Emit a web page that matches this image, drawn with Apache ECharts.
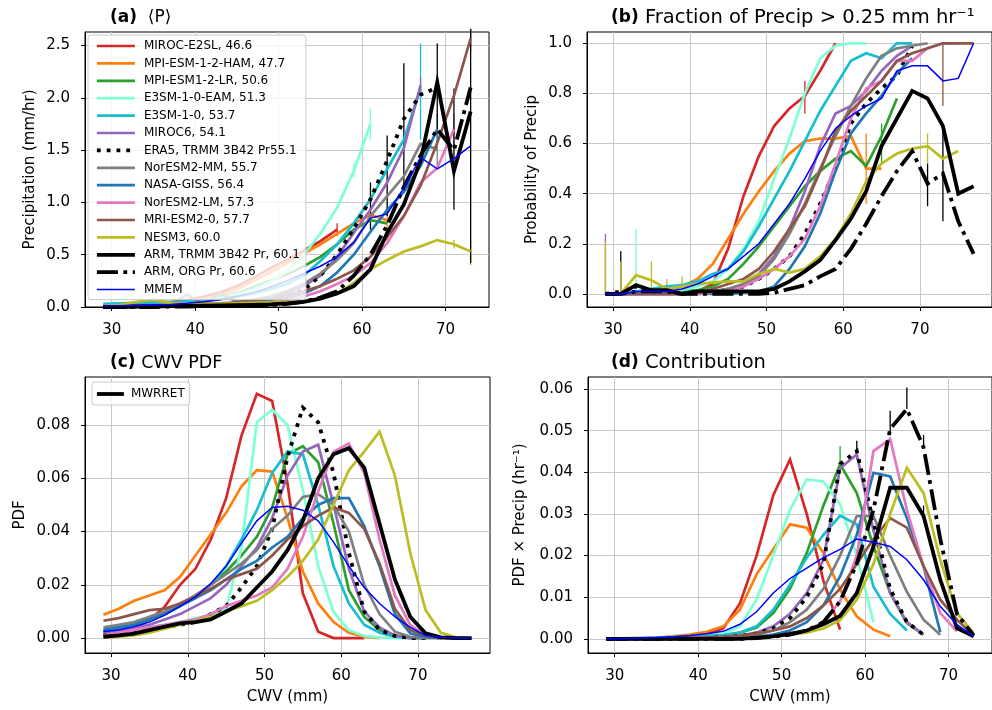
<!DOCTYPE html>
<html><head><meta charset="utf-8">
<script src="https://cdn.jsdelivr.net/npm/echarts@6/dist/echarts.min.js"></script>
<style>html,body{margin:0;padding:0;background:#fff}#c{width:992px;height:710px}</style>
</head><body><div id="c"></div>
<script>
// ---------- categories ----------
const cwvBins = [29,31,33,35,37,39,41,43,45,47,49,51,53,55,57,59,61,63,65,67,69,71,73,75,77];
const xTicks = [30,40,50,60,70];
const seriesNames = ['MIROC-E2SL, 46.6','MPI-ESM-1-2-HAM, 47.7','MPI-ESM1-2-LR, 50.6','E3SM-1-0-EAM, 51.3','E3SM-1-0, 53.7','MIROC6, 54.1','ERA5, TRMM 3B42 Pr55.1','NorESM2-MM, 55.7','NASA-GISS, 56.4','NorESM2-LM, 57.3','MRI-ESM2-0, 57.7','NESM3, 60.0','ARM, TRMM 3B42 Pr, 60.1','ARM, ORG Pr, 60.6','MMEM'];
const pdfObsName = 'MWRRET';

// ---------- (a) <P> (mm/hr) ----------
const precipMIROCE2SL = [0.01,0.015,0.02,0.03,0.045,0.065,0.1,0.14,0.2,0.28,0.37,0.45,0.54,0.63,0.74];
const precipMPIHAM = [0.01,0.012,0.018,0.025,0.035,0.05,0.075,0.11,0.17,0.25,0.33,0.42,0.51,0.6,0.7,0.8,0.88,0.83];
const precipMPILR = [0.005,0.008,0.012,0.017,0.025,0.04,0.06,0.085,0.13,0.19,0.25,0.31,0.39,0.48,0.6,0.74,0.83,0.8];
const precipE3SMEAM = [0.02,0.025,0.03,0.035,0.04,0.05,0.065,0.085,0.12,0.17,0.24,0.34,0.5,0.7,0.95,1.3,1.75];
const precipE3SM = [0.03,0.035,0.04,0.045,0.05,0.055,0.06,0.075,0.1,0.13,0.17,0.22,0.3,0.44,0.6,0.8,1.03,1.32,1.6,2.09];
const precipMIROC6 = [0.005,0.006,0.008,0.01,0.012,0.015,0.02,0.03,0.04,0.06,0.09,0.13,0.2,0.3,0.48,0.71,0.93,1.19,1.52,2.12];
const precipERA5 = [0.0,0.0,0.005,0.01,0.01,0.015,0.02,0.025,0.03,0.05,0.07,0.1,0.16,0.3,0.5,0.75,1.03,1.4,1.8,2.03,2.1];
const precipNorMM = [0.005,0.007,0.01,0.013,0.017,0.12,0.03,0.13,0.05,0.07,0.1,0.15,0.22,0.32,0.45,0.61,0.87,1.06,1.25,1.56,1.51];
const precipGISS = [0.005,0.006,0.008,0.01,0.012,0.015,0.018,0.023,0.03,0.045,0.065,0.09,0.13,0.2,0.33,0.5,0.72,0.93,1.1,1.35,1.7];
const precipNorLM = [0.003,0.004,0.005,0.006,0.008,0.01,0.012,0.015,0.02,0.03,0.045,0.065,0.1,0.15,0.22,0.3,0.42,0.61,0.87,1.19,1.33,1.7];
const precipMRI = [0.01,0.012,0.015,0.018,0.022,0.026,0.03,0.035,0.045,0.06,0.08,0.11,0.15,0.2,0.27,0.35,0.48,0.67,0.87,1.16,1.57,2.02,2.57];
const precipNESM3 = [0.01,0.02,0.05,0.07,0.04,0.03,0.03,0.03,0.035,0.04,0.045,0.05,0.06,0.08,0.13,0.23,0.36,0.45,0.53,0.58,0.64,0.6,0.53];
const precipARMTRMM = [0.0,0.0,0.005,0.005,0.008,0.01,0.012,0.015,0.018,0.02,0.025,0.035,0.05,0.08,0.13,0.2,0.36,0.71,0.98,1.4,2.15,1.3,1.87];
const precipARMORG = [0.0,0.0,0.0,0.0,0.005,0.005,0.008,0.01,0.012,0.015,0.02,0.03,0.05,0.09,0.15,0.3,0.5,0.78,1.15,1.45,1.7,1.5,2.1];
const precipMMEM = [0.01,0.012,0.015,0.02,0.025,0.035,0.05,0.07,0.1,0.14,0.19,0.25,0.32,0.39,0.48,0.62,0.85,0.89,1.14,1.43,1.32,1.42,1.54];

// ---------- (b) fraction of precip > 0.25 ----------
const fracMIROCE2SL = [0,0,0,0,0,0,0.01,0.04,0.18,0.39,0.55,0.67,0.74,0.79,0.89,1.0];
const fracMPIHAM = [0,0,0.005,0.01,0.015,0.03,0.06,0.12,0.22,0.32,0.41,0.49,0.56,0.61,0.62,0.62,0.63,0.5,0.5];
const fracMPILR = [0,0,0.005,0.005,0.005,0.01,0.015,0.03,0.06,0.12,0.19,0.27,0.35,0.43,0.49,0.54,0.57,0.51,0.63,0.78];
const fracE3SMEAM = [0,0,0.01,0.01,0.01,0.015,0.03,0.05,0.1,0.18,0.29,0.46,0.62,0.8,0.94,0.99,1.0,1.0];
const fracE3SM = [0,0,0.01,0.02,0.03,0.035,0.05,0.08,0.1,0.17,0.27,0.38,0.49,0.61,0.73,0.83,0.93,0.96,0.94,1.0,1.0];
const fracMIROC6 = [0,0,0,0,0,0,0.005,0.01,0.02,0.04,0.08,0.15,0.26,0.41,0.59,0.72,0.75,0.81,0.89,0.95,0.99];
const fracERA5 = [0,0.01,0.03,0.01,0.01,0,0.01,0.01,0.015,0.03,0.06,0.1,0.15,0.24,0.36,0.5,0.68,0.76,0.82,0.87,0.99];
const fracNorMM = [0,0,0,0,0,0,0.005,0.01,0.02,0.04,0.07,0.14,0.24,0.36,0.5,0.63,0.75,0.86,0.95,0.98,0.99,1.0];
const fracGISS = [0,0,0,0,0,0,0,0,0,0.005,0.01,0.03,0.1,0.19,0.32,0.49,0.64,0.72,0.79,0.88,0.94];
const fracNorLM = [0,0,0,0,0,0,0,0.005,0.01,0.03,0.06,0.1,0.15,0.22,0.35,0.52,0.7,0.82,0.85,0.93,0.93,0.98,1.0,1.0];
const fracMRI = [0,0,0,0,0,0,0.005,0.02,0.04,0.06,0.1,0.17,0.26,0.35,0.49,0.65,0.73,0.79,0.85,0.93,0.96,0.98,1.0,1.0,1.0];
const fracNESM3 = [0,0,0.075,0.055,0.02,0.03,0.04,0.045,0.05,0.05,0.08,0.1,0.085,0.1,0.15,0.22,0.32,0.45,0.52,0.56,0.58,0.59,0.54,0.57];
const fracARMTRMM = [0,0,0.035,0.015,0.015,0,0.01,0.01,0.01,0.01,0.01,0.02,0.05,0.09,0.135,0.215,0.3,0.41,0.59,0.7,0.81,0.78,0.67,0.4,0.43];
const fracARMORG = [0,0,0.01,0.01,0.01,0,0,0,0,0,0,0.005,0.02,0.035,0.07,0.1,0.18,0.28,0.39,0.49,0.57,0.44,0.48,0.29,0.16];
const fracMMEM = [0,0,0.01,0.01,0.01,0.02,0.04,0.07,0.1,0.15,0.2,0.28,0.36,0.46,0.57,0.66,0.71,0.75,0.78,0.89,0.91,0.91,0.85,0.86,1.0];

// ---------- (c) CWV PDF ----------
const pdfMIROCE2SL = [0.0011,0.002,0.0036,0.0068,0.0118,0.02,0.026,0.037,0.0525,0.076,0.0917,0.089,0.058,0.0168,0.0024,0.0,0.0,0.0];
const pdfMPIHAM = [0.0088,0.011,0.014,0.016,0.018,0.023,0.031,0.039,0.047,0.057,0.063,0.0625,0.045,0.025,0.013,0.006,0.002,0.0005,0.0];
const pdfMPILR = [0.002,0.003,0.005,0.007,0.009,0.012,0.016,0.02,0.025,0.031,0.038,0.049,0.069,0.072,0.066,0.043,0.018,0.008,0.003,0.001,0.0];
const pdfE3SMEAM = [0.002,0.002,0.003,0.004,0.005,0.006,0.0075,0.0085,0.011,0.034,0.081,0.0857,0.08,0.0556,0.027,0.0098,0.003,0.0008,0.0002,0,0,0];
const pdfE3SM = [0.003,0.004,0.005,0.007,0.009,0.012,0.015,0.02,0.027,0.037,0.048,0.062,0.07,0.069,0.05,0.027,0.013,0.005,0.002,0.0005,0,0];
const pdfMIROC6 = [0.002,0.003,0.004,0.005,0.007,0.009,0.012,0.015,0.02,0.027,0.034,0.045,0.061,0.07,0.0726,0.05,0.026,0.01,0.004,0.001,0,0];
const pdfERA5 = [0.001,0.0015,0.002,0.003,0.004,0.005,0.006,0.009,0.012,0.019,0.027,0.041,0.068,0.0865,0.081,0.062,0.032,0.01,0.003,0.0008,0,0];
const pdfNorMM = [0.004,0.005,0.006,0.008,0.01,0.013,0.016,0.02,0.024,0.028,0.033,0.041,0.046,0.053,0.054,0.05,0.04,0.02,0.009,0.0024,0.0005,0,0];
const pdfGISS = [0.003,0.004,0.005,0.007,0.009,0.012,0.015,0.018,0.022,0.026,0.029,0.034,0.038,0.045,0.05,0.0525,0.0525,0.042,0.027,0.009,0.0018,0.0003,0];
const pdfNorLM = [0.001,0.002,0.003,0.004,0.005,0.006,0.007,0.009,0.012,0.014,0.016,0.019,0.026,0.038,0.055,0.07,0.073,0.062,0.037,0.016,0.005,0.001,0.0002,0];
const pdfMRI = [0.0065,0.0075,0.009,0.0105,0.011,0.013,0.0155,0.0185,0.022,0.024,0.026,0.031,0.037,0.042,0.046,0.049,0.047,0.041,0.028,0.011,0.003,0.0008,0.0001,0];
const pdfNESM3 = [0.0002,0.0005,0.001,0.002,0.0035,0.005,0.0065,0.008,0.01,0.012,0.014,0.018,0.023,0.029,0.037,0.05,0.063,0.07,0.0775,0.061,0.032,0.0105,0.002,0.0003,0];
const pdfMWRRET = [0.0005,0.001,0.0017,0.003,0.0043,0.0055,0.006,0.007,0.01,0.013,0.019,0.025,0.033,0.044,0.06,0.069,0.0713,0.064,0.043,0.022,0.008,0.0018,0.0003,0,0];
const pdfMMEM = [0.0025,0.003,0.0043,0.006,0.0086,0.012,0.0155,0.0205,0.027,0.0356,0.044,0.049,0.0495,0.048,0.044,0.036,0.027,0.019,0.013,0.008,0.004,0.001,0.0003,0,0];

// ---------- (d) contribution ----------
const conMIROCE2SL = [0,0,0.0001,0.0002,0.0004,0.0007,0.0012,0.0025,0.0085,0.02,0.0345,0.0431,0.03,0.014,0.0022];
const conMPIHAM = [0,0.0001,0.0002,0.0003,0.0006,0.001,0.0017,0.003,0.007,0.0155,0.0215,0.0275,0.0267,0.0206,0.0118,0.0054,0.0022,0.0006];
const conMPILR = [0,0,0,0.0001,0.0002,0.0003,0.0005,0.0008,0.0015,0.0027,0.0062,0.012,0.0206,0.032,0.0419,0.035,0.0222,0.011,0.0038,0.001];
const conE3SMEAM = [0,0.0001,0.0001,0.0002,0.0003,0.0005,0.0008,0.0012,0.003,0.0095,0.02,0.031,0.0383,0.0378,0.0323,0.02,0.004];
const conE3SM = [0.0001,0.0001,0.0002,0.0003,0.0004,0.0005,0.0007,0.0009,0.0015,0.003,0.007,0.013,0.0195,0.025,0.0296,0.0275,0.0125,0.006,0.002];
const conMIROC6 = [0,0,0,0,0.0001,0.0002,0.0003,0.0005,0.0008,0.0015,0.003,0.006,0.011,0.019,0.041,0.0443,0.026,0.011,0.004,0.001];
const conERA5 = [0,0,0,0,0.0001,0.0001,0.0002,0.0004,0.0007,0.0013,0.0025,0.005,0.01,0.018,0.042,0.0451,0.028,0.012,0.004,0.001];
const conNorMM = [0,0,0.0001,0.0001,0.0002,0.0002,0.0003,0.0004,0.0005,0.001,0.002,0.004,0.007,0.012,0.02,0.0295,0.0295,0.02,0.0113,0.0046,0.001];
const conGISS = [0,0,0,0,0,0.0001,0.0001,0.0002,0.0003,0.0005,0.001,0.002,0.004,0.008,0.015,0.025,0.0399,0.039,0.029,0.0174,0.0016];
const conNorLM = [0,0,0,0,0,0,0.0001,0.0001,0.0002,0.0004,0.0006,0.001,0.002,0.004,0.009,0.02,0.0451,0.048,0.031,0.0174,0.0062,0.0018];
const conMRI = [0.0001,0.0001,0.0001,0.0002,0.0002,0.0003,0.0004,0.0005,0.0008,0.0013,0.002,0.003,0.005,0.008,0.012,0.018,0.024,0.029,0.0267,0.0175,0.0094,0.0046,0.0008];
const conNESM3 = [0,0,0,0,0,0,0,0,0.0001,0.0003,0.0006,0.001,0.0015,0.0025,0.0045,0.0094,0.018,0.03,0.0411,0.035,0.019,0.0062,0.0014];
const conARMTRMM = [0,0,0,0,0,0,0,0,0,0.0003,0.0006,0.0012,0.002,0.0035,0.0055,0.011,0.0222,0.0363,0.0363,0.0295,0.0142,0.0026,0.0006];
const conARMORG = [0,0,0,0,0,0,0,0,0,0.0002,0.0005,0.001,0.002,0.004,0.009,0.018,0.031,0.0504,0.0552,0.046,0.024,0.006,0.0008];
const conMMEM = [0,0.0001,0.0002,0.0003,0.0005,0.0008,0.0012,0.0018,0.0035,0.0065,0.011,0.0145,0.017,0.0195,0.0215,0.024,0.0232,0.0222,0.019,0.0142,0.0078,0.0034,0.0006];

// ---------- error bars: [cwv, low, high, seriesIndex] ----------
const errPrecip = [[57,0.68,0.8,0],[61,0.84,0.95,1],[63,0.61,0.96,1],[59,1.24,1.38,3],[61,1.59,1.91,3],[67,1.6,2.52,4],[67,2.02,2.2,5],[61,0.74,1.19,6],[63,0.87,1.64,6],[65,1.09,2.33,6],[69,1.32,1.7,7],[69,1.55,1.85,8],[71,1.55,1.85,9],[73,2.45,2.66,10],[71,0.56,0.64,11],[73,0.4,0.64,11],[69,1.7,2.52,12],[71,0.93,2.09,12],[73,0.42,2.66,12]];
const errFrac = [[29,0,0.24,5],[29,0,0.21,11],[31,0,0.17,12],[31,0,0.13,11],[33,0,0.26,3],[35,0,0.13,11],[37,0,0.06,11],[39,0,0.07,11],[55,0.72,0.85,0],[63,0.36,0.64,1],[65,0.52,0.68,2],[71,0.52,0.64,11],[73,0.75,1.0,10],[71,0.35,0.52,12],[73,0.29,0.67,12]];
const errContrib = [[57,0.0415,0.0463,2],[59,0.0431,0.0476,6],[67,0.0295,0.032,12],[63,0.0496,0.0548,13],[65,0.0552,0.0604,13],[67,0.046,0.049,13]];

// ---------- styles ----------
const seriesColors = ['#d62728','#ff7f0e','#2ca02c','#7fffd4','#17becf','#9467bd','#000000','#7f7f7f','#1f77b4','#e377c2','#8c564b','#bcbd22','#000000','#000000','#0000ff'];
const seriesWidths = [2.7,2.7,2.7,2.7,2.7,2.7,3.8,2.7,2.7,2.7,2.7,2.7,3.8,3.8,1.5];
const seriesDash = ['solid','solid','solid','solid','solid','solid',[3.8,6],'solid','solid','solid','solid','solid','solid',[21,5.5,3.8,5.5],'solid'];

const panelPrecip = [precipMIROCE2SL,precipMPIHAM,precipMPILR,precipE3SMEAM,precipE3SM,precipMIROC6,precipERA5,precipNorMM,precipGISS,precipNorLM,precipMRI,precipNESM3,precipARMTRMM,precipARMORG,precipMMEM];
const panelFrac = [fracMIROCE2SL,fracMPIHAM,fracMPILR,fracE3SMEAM,fracE3SM,fracMIROC6,fracERA5,fracNorMM,fracGISS,fracNorLM,fracMRI,fracNESM3,fracARMTRMM,fracARMORG,fracMMEM];
const panelPdf = [pdfMIROCE2SL,pdfMPIHAM,pdfMPILR,pdfE3SMEAM,pdfE3SM,pdfMIROC6,pdfERA5,pdfNorMM,pdfGISS,pdfNorLM,pdfMRI,pdfNESM3,pdfMWRRET,null,pdfMMEM];
const panelCon = [conMIROCE2SL,conMPIHAM,conMPILR,conE3SMEAM,conE3SM,conMIROC6,conERA5,conNorMM,conGISS,conNorLM,conMRI,conNESM3,conARMTRMM,conARMORG,conMMEM];

const FONT = 'DejaVu Sans';
const series = [];
function addLines(panel, arrs, isPdf) {
  arrs.forEach((ys, k) => {
    if (!ys) return;
    const name = (isPdf && k === 12) ? pdfObsName : seriesNames[k];
    series.push({
      type: 'line', name: name, xAxisIndex: panel, yAxisIndex: panel,
      data: ys.map((v, i) => [cwvBins[i], v]),
      symbol: 'none', showSymbol: false, smooth: false, animation: false,
      color: seriesColors[k], z: 2 + k * 0.01,
      lineStyle: { color: seriesColors[k], width: seriesWidths[k], type: seriesDash[k], cap: 'butt', join: 'miter' }
    });
  });
}
function addErr(panel, rows) {
  series.push({
    type: 'custom', xAxisIndex: panel, yAxisIndex: panel, animation: false, silent: true, z: 2,
    data: rows,
    encode: { x: 0, y: [1, 2] },
    renderItem: function (params, api) {
      const a = api.coord([api.value(0), api.value(1)]);
      const b = api.coord([api.value(0), api.value(2)]);
      const col = seriesColors[api.value(3)];
      return { type: 'line', shape: { x1: a[0], y1: a[1], x2: b[0], y2: b[1] }, style: { stroke: col, lineWidth: 1.3 } };
    }
  });
}
addLines(0, panelPrecip, false); addErr(0, errPrecip);
addLines(1, panelFrac, false); addErr(1, errFrac);
addLines(2, panelPdf, true);
addLines(3, panelCon, false); addErr(3, errContrib);

function xAx(idx, min, max, name) {
  return {
    type: 'value', gridIndex: idx, min: min, max: max,
    name: name || '', nameLocation: 'middle', nameGap: 37,
    nameTextStyle: { fontSize: 15, color: '#000', fontFamily: FONT },
    axisLine: { show: true, onZero: false, lineStyle: { color: '#000', width: 1 } },
    axisTick: { show: true, length: 4, customValues: xTicks, lineStyle: { color: '#000' } },
    axisLabel: { customValues: xTicks, fontSize: 15, color: '#000', margin: 16, fontFamily: FONT },
    splitLine: { show: true, lineStyle: { color: '#c8c8c8', width: 1 } }
  };
}
function yAx(idx, min, max, ticks, digits, name, gap) {
  return {
    type: 'value', gridIndex: idx, min: min, max: max,
    name: name, nameLocation: 'middle', nameGap: gap,
    nameTextStyle: { fontSize: 15, color: '#000', fontFamily: FONT },
    axisLine: { show: true, onZero: false, lineStyle: { color: '#000', width: 1 } },
    axisTick: { show: true, length: 4, customValues: ticks, lineStyle: { color: '#000' } },
    axisLabel: { customValues: ticks, fontSize: 15, color: '#000', margin: 15, fontFamily: FONT, formatter: v => v.toFixed(digits) },
    splitLine: { show: true, lineStyle: { color: '#c8c8c8', width: 1 } }
  };
}
const yTicksA = [0,0.5,1.0,1.5,2.0,2.5];
const yTicksB = [0,0.2,0.4,0.6,0.8,1.0];
const yTicksC = [0,0.02,0.04,0.06,0.08];
const yTicksD = [0,0.01,0.02,0.03,0.04,0.05,0.06];

function titleStyle(size) {
  return { fontSize: size, fontWeight: 'normal', color: '#000', fontFamily: FONT,
           rich: { b: { fontSize: 17, fontWeight: 'bold', fontFamily: FONT, color: '#000' } } };
}
const gridStyle = { show: true, borderColor: '#000', borderWidth: 1, backgroundColor: 'transparent' };
const legendCommon = {
  orient: 'vertical', itemHeight: 14,
  backgroundColor: 'rgba(255,255,255,0.8)', borderColor: '#cccccc', borderWidth: 1, borderRadius: 3,
  itemStyle: { opacity: 0, borderWidth: 0 },
  lineStyle: { width: 'inherit' },
  selectedMode: false
};
const option = {
  animation: false,
  backgroundColor: '#fff',
  textStyle: { fontFamily: FONT },
  grid: [
    Object.assign({ left: 85, top: 32, width: 404, height: 275 }, gridStyle),
    Object.assign({ left: 587, top: 32, width: 405, height: 275 }, gridStyle),
    Object.assign({ left: 85, top: 377, width: 405, height: 276 }, gridStyle),
    Object.assign({ left: 588, top: 377, width: 404, height: 276 }, gridStyle)
  ],
  xAxis: [ xAx(0, 26.8, 75.2), xAx(1, 26.6, 79.4), xAx(2, 26.6, 79.4, 'CWV (mm)'), xAx(3, 26.8, 75.2, 'CWV (mm)') ],
  yAxis: [
    yAx(0, 0, 2.63, yTicksA, 1, 'Precipitation (mm/hr)', 47),
    yAx(1, -0.052, 1.045, yTicksB, 1, 'Probability of Precip', 47),
    yAx(2, -0.0056, 0.098, yTicksC, 2, 'PDF', 57),
    yAx(3, -0.0034, 0.0629, yTicksD, 2, 'PDF × Precip (hr⁻¹)', 60)
  ],
  title: [
    { left: 105, top: 4, text: '{b|(a)}  ⟨P⟩', textStyle: titleStyle(17) },
    { left: 606, top: 3, text: '{b|(b)} Fraction of Precip > 0.25 mm hr⁻¹', textStyle: titleStyle(19.5) },
    { left: 105, top: 349, text: '{b|(c)} CWV PDF', textStyle: titleStyle(17.5) },
    { left: 606, top: 348, text: '{b|(d)} Contribution', textStyle: titleStyle(19.5) }
  ],
  legend: [
    Object.assign({
      data: seriesNames, left: 88, top: 35,
      padding: [5, 6, 4, 7], itemWidth: 38, itemGap: 5.4,
      textStyle: { fontSize: 12, color: '#000', fontFamily: FONT, padding: [0, 0, 0, 4] }
    }, legendCommon),
    Object.assign({
      data: [pdfObsName], left: 92, top: 382,
      padding: [6, 5, 5, 3], itemWidth: 27,
      textStyle: { fontSize: 12, color: '#000', fontFamily: FONT, padding: [0, 0, 0, 2] }
    }, legendCommon)
  ],
  series: series
};
const chart = echarts.init(document.getElementById('c'), null, { renderer: 'canvas' });
chart.setOption(option);
</script>
</body></html>
